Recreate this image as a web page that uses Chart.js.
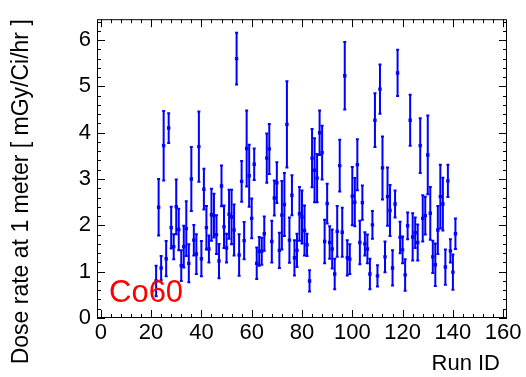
<!DOCTYPE html>
<html>
<head>
<meta charset="utf-8">
<script src="https://cdn.jsdelivr.net/npm/chart.js@4/dist/chart.umd.min.js"></script>
<style>
  html, body { margin: 0; padding: 0; background: #fff; }
  #graphique { display: block; }
</style>
</head>
<body>
<canvas id="graphique" width="526" height="377"></canvas>
<script>
// Numéros de run (axe X)
const runIds = [
  22, 23, 24, 25, 26, 27, 28, 29, 30, 31, 32, 33, 34, 35, 36, 37, 38, 39, 40, 41,
  42, 43, 44, 45, 46, 47, 48, 49, 50, 51, 52, 53, 54, 55, 56, 57, 58, 59, 60, 61,
  62, 63, 64, 65, 66, 67, 68, 69, 70, 71, 72, 73, 74, 75, 76, 77, 78, 79, 80, 81,
  82, 83, 84, 85, 86, 87, 88, 89, 90, 91, 92, 93, 94, 95, 96, 97, 98, 99, 100, 101,
  102, 103, 104, 105, 106, 107, 108, 109, 110, 111, 112, 113, 114, 115, 116, 117, 118, 119, 120, 121,
  122, 123, 124, 125, 126, 127, 128, 129, 130, 131, 132, 133, 134, 135, 136, 137, 138, 139, 140, 141,
];

// Débit de dose à 1 m (mGy/Ci/hr)
const debitsDose = [
  0.80, 2.39, 1.08, 3.72, 1.28, 4.10, 1.95, 1.54, 2.40, 1.91, 1.13, 1.54, 1.93, 1.18, 3.00, 1.68, 1.38, 3.70, 1.28, 2.78,
  1.95, 1.49, 2.23, 2.21, 1.80, 1.23, 2.85, 1.97, 1.51, 2.24, 2.18, 1.90, 5.60, 1.36, 2.95, 1.67, 3.66, 3.07, 2.15, 3.32,
  1.18, 1.44, 1.44, 1.82, 3.45, 3.65, 1.65, 2.59, 2.92, 1.46, 2.22, 2.45, 4.18, 1.68, 2.65, 1.30, 1.46, 2.25, 2.18, 1.89,
  1.58, 0.80, 3.45, 3.19, 3.02, 4.00, 3.57, 1.65, 2.47, 1.63, 1.49, 0.95, 1.87, 3.29, 1.85, 5.23, 1.30, 1.27, 2.63, 2.50,
  3.31, 1.63, 2.49, 1.60, 1.49, 0.95, 2.01, 4.27, 0.91, 4.94, 3.24, 1.32, 2.62, 2.32, 1.08, 2.46, 5.29, 1.74, 1.47, 0.93,
  1.99, 4.27, 1.75, 1.84, 1.63, 3.72, 2.15, 2.21, 3.52, 2.26, 1.32, 1.15, 1.90, 2.62, 2.46, 1.10, 2.96, 1.45, 0.99, 1.82,
];

// Incertitudes (demi-largeur des barres d'erreur)
const erreursDose = [
  0.33, 0.61, 0.26, 0.75, 0.38, 0.32, 0.45, 0.27, 0.59, 0.45, 0.33, 0.45, 0.59, 0.41, 0.69, 0.33, 0.43, 0.76, 0.38, 0.44,
  0.47, 0.29, 0.56, 0.47, 0.42, 0.37, 0.44, 0.46, 0.31, 0.53, 0.59, 0.55, 0.56, 0.45, 0.44, 0.40, 0.82, 0.67, 0.43, 0.34,
  0.34, 0.31, 0.29, 0.37, 0.53, 0.54, 0.45, 0.38, 0.44, 0.38, 0.74, 0.68, 0.93, 0.49, 0.43, 0.38, 0.36, 0.58, 0.57, 0.54,
  0.24, 0.23, 0.63, 0.69, 0.52, 0.48, 0.58, 0.47, 0.43, 0.35, 0.42, 0.33, 0.55, 0.56, 0.53, 0.73, 0.38, 0.32, 0.63, 0.52,
  0.55, 0.47, 0.37, 0.25, 0.31, 0.33, 0.30, 0.58, 0.23, 0.53, 0.68, 0.33, 0.63, 0.55, 0.38, 0.29, 0.50, 0.34, 0.29, 0.34,
  0.29, 0.55, 0.51, 0.33, 0.39, 0.59, 0.50, 0.41, 0.85, 0.57, 0.35, 0.46, 0.52, 0.69, 0.57, 0.38, 0.35, 0.25, 0.38, 0.33,
];

const ticksX = [0, 20, 40, 60, 80, 100, 120, 140, 160];
const ticksY = [0, 1, 2, 3, 4, 5, 6];

const BLEU = '#0000ff';
const POLICE = "'Liberation Sans', Arial, Helvetica, sans-serif";

// Barres d'erreur verticales, dessinées avant les marqueurs
const pluginErreurs = {
  id: 'barresErreur',
  beforeDatasetsDraw(chart) {
    const { ctx, scales: { x, y } } = chart;
    ctx.save();
    ctx.strokeStyle = BLEU;
    ctx.lineWidth = 2;
    runIds.forEach((run, i) => {
      const px = x.getPixelForValue(run);
      const haut = y.getPixelForValue(debitsDose[i] + erreursDose[i]);
      const bas = y.getPixelForValue(debitsDose[i] - erreursDose[i]);
      ctx.beginPath();
      ctx.moveTo(px, haut);
      ctx.lineTo(px, bas);
      ctx.moveTo(px - 1.5, haut);
      ctx.lineTo(px + 1.5, haut);
      ctx.moveTo(px - 1.5, bas);
      ctx.lineTo(px + 1.5, bas);
      ctx.stroke();
    });
    ctx.restore();
  },
};

// Cadre façon ROOT : bordure + graduations vers l'intérieur sur les 4 côtés
const pluginCadre = {
  id: 'cadreRoot',
  afterDraw(chart) {
    const { ctx, chartArea: a, scales: { x, y } } = chart;
    ctx.save();
    ctx.strokeStyle = '#000';
    ctx.lineWidth = 1;
    ctx.strokeRect(a.left + 0.5, a.top + 0.5, a.right - a.left - 1, a.bottom - a.top - 1);

    ctx.beginPath();
    for (let v = 0; v <= 160; v += 4) {
      const px = Math.round(x.getPixelForValue(v)) + 0.5;
      const l = v % 20 === 0 ? 8 : 4;
      ctx.moveTo(px, a.bottom);
      ctx.lineTo(px, a.bottom - l);
      ctx.moveTo(px, a.top);
      ctx.lineTo(px, a.top + l);
    }
    for (let k = 0; k <= 32; k++) {
      const v = k * 0.2;
      const py = Math.round(y.getPixelForValue(v)) + 0.5;
      const l = k % 5 === 0 ? 8 : 4;
      ctx.moveTo(a.left, py);
      ctx.lineTo(a.left + l, py);
      ctx.moveTo(a.right, py);
      ctx.lineTo(a.right - l, py);
    }
    ctx.stroke();

    // Titre de l'axe X, calé à droite comme dans ROOT
    ctx.fillStyle = '#000';
    ctx.font = `22px ${POLICE}`;
    ctx.textAlign = 'right';
    ctx.textBaseline = 'alphabetic';
    ctx.fillText('Run ID', a.right - 7, 370);

    // Étiquette de la source
    ctx.fillStyle = '#ff0000';
    ctx.font = `31px ${POLICE}`;
    ctx.textAlign = 'left';
    ctx.fillText('Co60', a.left + 12, a.bottom - 16);
    ctx.restore();
  },
};

const ctx = document.getElementById('graphique').getContext('2d');

new Chart(ctx, {
  type: 'scatter',
  data: {
    datasets: [{
      label: 'Co60',
      data: runIds.map((run, i) => ({ x: run, y: debitsDose[i] })),
      backgroundColor: BLEU,
      borderColor: BLEU,
      pointStyle: 'rect',
      pointRadius: 2.4,
      pointBorderWidth: 0,
    }],
  },
  options: {
    responsive: false,
    animation: false,
    layout: { padding: { top: 5, right: 19, left: 0, bottom: 0 } },
    plugins: { legend: { display: false }, tooltip: { enabled: false } },
    scales: {
      x: {
        type: 'linear',
        min: -1.5,
        max: 161.5,
        afterBuildTicks: (scale) => { scale.ticks = ticksX.map((v) => ({ value: v })); },
        afterFit: (scale) => { scale.height = 59; },
        grid: { display: false, drawTicks: false },
        border: { display: false },
        ticks: {
          autoSkip: false,
          maxRotation: 0,
          padding: 2,
          color: '#000',
          font: { family: POLICE, size: 22 },
        },
      },
      y: {
        type: 'linear',
        min: 0,
        max: 6.45,
        afterBuildTicks: (scale) => { scale.ticks = ticksY.map((v) => ({ value: v })); },
        afterFit: (scale) => { scale.width = 97; },
        grid: { display: false, drawTicks: false },
        border: { display: false },
        ticks: {
          padding: 6,
          color: '#000',
          font: { family: POLICE, size: 22 },
        },
        title: {
          display: true,
          text: 'Dose rate at 1 meter [ mGy/Ci/hr ]',
          align: 'end',
          color: '#000',
          font: { family: POLICE, size: 23 },
          padding: { top: 8, bottom: 0 },
        },
      },
    },
  },
  plugins: [pluginErreurs, pluginCadre],
});
</script>
</body>
</html>
